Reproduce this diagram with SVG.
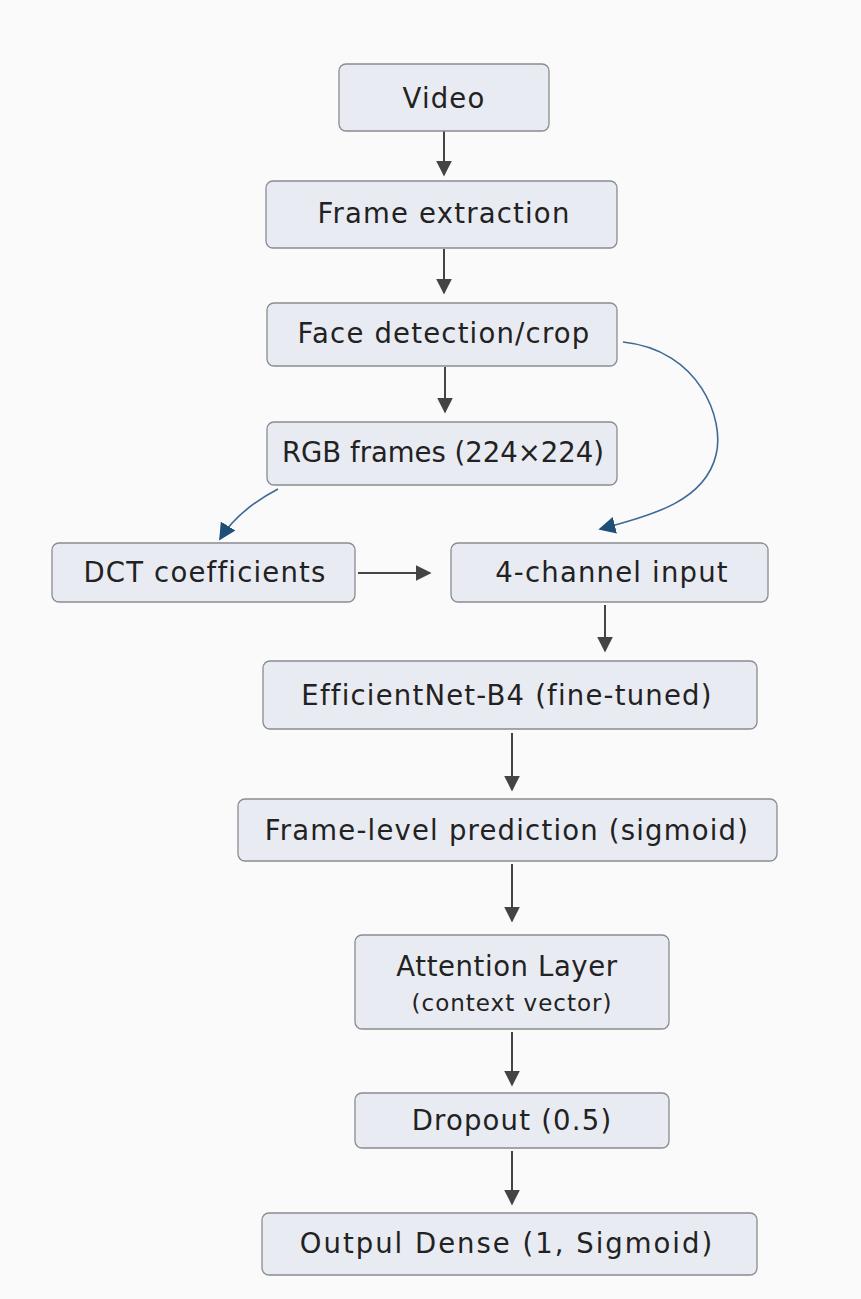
<svg xmlns="http://www.w3.org/2000/svg" width="861" height="1299" viewBox="0 0 861 1299">
<defs>
<style>
.box{fill:#e9ebf3;stroke:#8a8c90;stroke-width:1.3}
.t{font-family:"DejaVu Sans","Open Sans",sans-serif;font-size:27.5px;fill:#222;text-anchor:middle;letter-spacing:1.2px}
.s{font-size:23px;letter-spacing:1px}
.a{stroke:#444;stroke-width:2;fill:none}
.b{stroke:#3d6a96;stroke-width:1.6;fill:none}
</style>
<marker id="ah" viewBox="0 0 10 10" refX="9" refY="5" markerWidth="16" markerHeight="16" markerUnits="userSpaceOnUse" orient="auto"><path d="M0,0 L10,5 L0,10 z" fill="#444"/></marker>
<marker id="bh" viewBox="0 0 10 10" refX="9" refY="5" markerWidth="17" markerHeight="17" markerUnits="userSpaceOnUse" orient="auto"><path d="M0,0 L10,5 L0,10 z" fill="#1f4e79"/></marker>
</defs>
<rect width="861" height="1299" fill="#fafafa"/>
<g id="connectors">
<line class="a" x1="444" y1="131" x2="444" y2="175" marker-end="url(#ah)"/>
<line class="a" x1="444" y1="249" x2="444" y2="293" marker-end="url(#ah)"/>
<line class="a" x1="445" y1="367" x2="445" y2="412" marker-end="url(#ah)"/>
<line class="a" x1="358" y1="573" x2="430" y2="573" marker-end="url(#ah)"/>
<line class="a" x1="605" y1="605" x2="605" y2="651" marker-end="url(#ah)"/>
<line class="a" x1="512" y1="733" x2="512" y2="790" marker-end="url(#ah)"/>
<line class="a" x1="512" y1="864" x2="512" y2="921" marker-end="url(#ah)"/>
<line class="a" x1="512" y1="1032" x2="512" y2="1085" marker-end="url(#ah)"/>
<line class="a" x1="512" y1="1151" x2="512" y2="1204" marker-end="url(#ah)"/>
<path class="b" d="M278,489 Q238,510 220,539" marker-end="url(#bh)"/>
<path class="b" d="M623,342 C700,350 725,420 716,455 C705,500 655,515 600,529" marker-end="url(#bh)"/>
</g>
<g id="n_video"><rect class="box" x="339" y="64" width="210" height="67" rx="7"/><text class="t" x="444" y="108">Video</text></g>
<g id="n_frame"><rect class="box" x="266" y="181" width="351" height="67" rx="7"/><text class="t" x="444" y="223">Frame extraction</text></g>
<g id="n_face"><rect class="box" x="267" y="303" width="350" height="63" rx="7"/><text class="t" x="444" y="343">Face detection/crop</text></g>
<g id="n_rgb"><rect class="box" x="267" y="422" width="350" height="63" rx="7"/><text class="t" x="443" y="462" style="letter-spacing:0">RGB frames (224×224)</text></g>
<g id="n_dct"><rect class="box" x="52" y="543" width="303" height="59" rx="7"/><text class="t" x="205" y="582">DCT coefficients</text></g>
<g id="n_4ch"><rect class="box" x="451" y="543" width="317" height="59" rx="7"/><text class="t" x="612" y="582">4-channel input</text></g>
<g id="n_eff"><rect class="box" x="263" y="661" width="494" height="68" rx="7"/><text class="t" x="507" y="705">EfficientNet-B4 (fine-tuned)</text></g>
<g id="n_fl"><rect class="box" x="238" y="799" width="539" height="62" rx="7"/><text class="t" x="507" y="840">Frame-level prediction (sigmoid)</text></g>
<g id="n_att"><rect class="box" x="355" y="935" width="314" height="94" rx="7"/><text class="t" x="507" y="976" style="letter-spacing:0.6px">Attention Layer</text><text class="t s" x="512" y="1011">(context vector)</text></g>
<g id="n_drop"><rect class="box" x="355" y="1093" width="314" height="55" rx="7"/><text class="t" x="512" y="1130">Dropout (0.5)</text></g>
<g id="n_out"><rect class="box" x="262" y="1213" width="495" height="62" rx="7"/><text class="t" x="507" y="1253" style="letter-spacing:2px">Outpul Dense (1, Sigmoid)</text></g>
</svg>
